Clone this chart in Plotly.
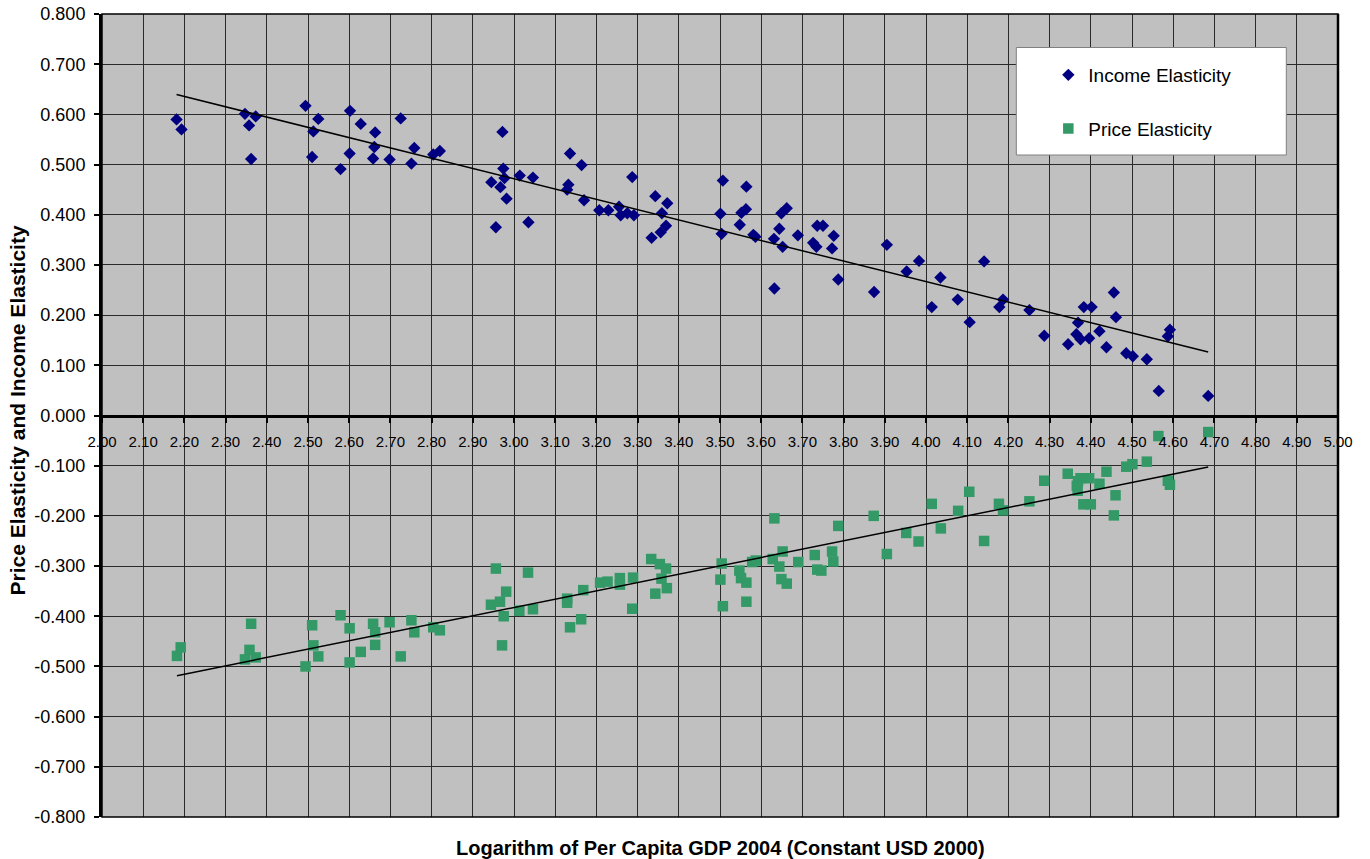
import numpy as np
import plotly.graph_objects as go

income_x = [2.181, 2.193, 2.347, 2.373, 2.357, 2.362, 2.494, 2.525, 2.513, 2.510, 2.602, 2.628, 2.663, 2.661, 2.658, 2.601, 2.579, 2.698, 2.725, 2.758, 2.751, 2.804, 2.820,
            2.972, 2.974, 2.945, 2.967, 2.977, 2.982, 2.956, 3.014, 3.046, 3.035, 3.136, 3.164, 3.132, 3.129, 3.170, 3.207, 3.229, 3.255, 3.259, 3.275, 3.291, 3.287, 3.343, 3.372, 3.359, 3.369, 3.356, 3.334,
            3.507, 3.501, 3.504, 3.564, 3.563, 3.552, 3.548, 3.581, 3.586, 3.632, 3.631, 3.644, 3.652, 3.649, 3.662, 3.689, 3.736, 3.750, 3.726, 3.734, 3.776, 3.772, 3.787, 3.874, 3.905,
            3.953, 3.983, 4.014, 4.035, 4.077, 4.106, 4.141, 4.178, 4.187, 4.251, 4.287, 4.345, 4.369, 4.365, 4.375, 4.383, 4.402, 4.396, 4.421, 4.438, 4.456, 4.461, 4.486, 4.502, 4.536, 4.565, 4.587, 4.592, 4.685]
income_y = [0.590, 0.570, 0.601, 0.596, 0.578, 0.511, 0.617, 0.591, 0.566, 0.515, 0.607, 0.581, 0.564, 0.535, 0.512, 0.522, 0.491, 0.510, 0.592, 0.533, 0.502, 0.520, 0.527,
            0.565, 0.492, 0.465, 0.455, 0.473, 0.432, 0.375, 0.478, 0.474, 0.385, 0.522, 0.499, 0.460, 0.450, 0.429, 0.409, 0.409, 0.416, 0.399, 0.403, 0.399, 0.475, 0.437, 0.423, 0.403, 0.378, 0.365, 0.354,
            0.468, 0.402, 0.362, 0.456, 0.411, 0.404, 0.380, 0.360, 0.356, 0.253, 0.352, 0.372, 0.336, 0.403, 0.413, 0.359, 0.378, 0.378, 0.344, 0.336, 0.358, 0.333, 0.271, 0.246, 0.340,
            0.287, 0.308, 0.216, 0.275, 0.231, 0.186, 0.307, 0.216, 0.231, 0.210, 0.159, 0.142, 0.185, 0.162, 0.152, 0.216, 0.216, 0.154, 0.168, 0.136, 0.245, 0.196, 0.124, 0.118, 0.112, 0.049, 0.158, 0.171, 0.039]

price_x = [2.182, 2.191, 2.362, 2.358, 2.347, 2.373, 2.494, 2.510, 2.513, 2.525, 2.579, 2.601, 2.601, 2.628, 2.658, 2.663, 2.663, 2.698, 2.725, 2.751, 2.758, 2.804, 2.820,
           2.956, 2.944, 2.966, 2.981, 2.975, 2.971, 3.013, 3.046, 3.034, 3.129, 3.129, 3.136, 3.163, 3.168, 3.209, 3.227, 3.257, 3.257, 3.289, 3.287, 3.333, 3.354, 3.369, 3.358, 3.371, 3.343,
           3.504, 3.501, 3.507, 3.547, 3.551, 3.564, 3.564, 3.578, 3.587, 3.628, 3.652, 3.644, 3.649, 3.662, 3.690, 3.730, 3.736, 3.746, 3.772, 3.775, 3.787, 3.905, 3.632,
           3.873, 3.952, 3.982, 4.014, 4.036, 4.078, 4.105, 4.141, 4.177, 4.187, 4.251, 4.287, 4.344, 4.375, 4.369, 4.366, 4.368, 4.396, 4.382, 4.400, 4.421, 4.438, 4.460, 4.456, 4.486, 4.501, 4.536, 4.564, 4.587, 4.592, 4.685]
price_y = [-0.479, -0.462, -0.415, -0.467, -0.486, -0.482, -0.500, -0.418, -0.458, -0.480, -0.398, -0.424, -0.492, -0.471, -0.415, -0.432, -0.457, -0.412, -0.480, -0.408, -0.432, -0.422, -0.428,
           -0.305, -0.377, -0.371, -0.351, -0.400, -0.458, -0.389, -0.386, -0.313, -0.365, -0.373, -0.422, -0.406, -0.348, -0.333, -0.331, -0.324, -0.337, -0.323, -0.385, -0.286, -0.296, -0.305, -0.325, -0.344, -0.355,
           -0.295, -0.327, -0.380, -0.309, -0.324, -0.333, -0.371, -0.292, -0.289, -0.286, -0.271, -0.301, -0.326, -0.335, -0.292, -0.278, -0.307, -0.309, -0.271, -0.291, -0.220, -0.276, -0.205,
           -0.200, -0.234, -0.251, -0.176, -0.225, -0.190, -0.152, -0.250, -0.176, -0.189, -0.171, -0.130, -0.116, -0.125, -0.131, -0.140, -0.150, -0.125, -0.177, -0.177, -0.136, -0.112, -0.159, -0.199, -0.102, -0.097, -0.092, -0.041, -0.130, -0.138, -0.033]

x_ticks = [round(2.0 + 0.1 * i, 2) for i in range(31)]
y_ticks = [round(-0.8 + 0.1 * i, 1) for i in range(17)]

FONT = "Liberation Sans, Arial, sans-serif"

def trend(xs, ys):
    k, b = np.polyfit(xs, ys, 1)
    xr = np.array([min(xs), max(xs)])
    return xr, k * xr + b

fig = go.Figure()

fig.add_trace(go.Scatter(x=income_x, y=income_y, mode="markers", name="Income Elasticity",
                         legendgroup="a",
                         marker=dict(symbol="diamond", size=9.5, color="#000080", line=dict(width=0))))
fig.add_trace(go.Scatter(x=price_x, y=price_y, mode="markers", name="Price Elasticity",
                         legendgroup="b",
                         marker=dict(symbol="square", size=10.5, color="#339966", line=dict(width=0))))

tx, ty = trend(income_x, income_y)
fig.add_trace(go.Scatter(x=tx, y=ty, mode="lines", line=dict(color="black", width=1.5),
                         showlegend=False, hoverinfo="skip"))
tx, ty = trend(price_x, price_y)
fig.add_trace(go.Scatter(x=tx, y=ty, mode="lines", line=dict(color="black", width=1.5),
                         showlegend=False, hoverinfo="skip"))

W, H = 1370, 859
L, R, T, B = 101.6, 1337.7, 14, 817
pw, ph = R - L, B - T

def px_x(p):
    return (p - L) / pw

def px_y(p):
    return (B - p) / ph

fig.update_layout(
    width=W, height=H,
    margin=dict(l=L, r=W - R, t=T, b=H - B, pad=0, autoexpand=False),
    paper_bgcolor="white",
    plot_bgcolor="#C0C0C0",
    font=dict(family=FONT, color="black"),
    showlegend=True,
    legend=dict(x=px_x(1048), y=px_y(56), xanchor="left", yanchor="top",
                bgcolor="rgba(0,0,0,0)", borderwidth=0,
                font=dict(size=19, family=FONT, color="black"),
                traceorder="grouped", tracegroupgap=26),
    xaxis=dict(range=[2.0, 5.0], tickmode="array", tickvals=x_ticks,
               ticktext=[f"{v:.2f}" for v in x_ticks],
               showgrid=True, gridcolor="#2a2a2a", gridwidth=1,
               zeroline=False, showline=True, linecolor="black", linewidth=3,
               anchor="free", position=0.5, automargin=False,
               ticks="outside", ticklen=5, tickwidth=2, tickcolor="black",
               tickfont=dict(size=15, family=FONT, color="black"),
               ticklabelstandoff=6),
    yaxis=dict(range=[-0.8, 0.8], tickmode="array", tickvals=y_ticks,
               ticktext=[f"{v:.3f}" for v in y_ticks],
               showgrid=True, gridcolor="#2a2a2a", gridwidth=1,
               zeroline=False, showline=True, linecolor="black", linewidth=3,
               automargin=False, ticklabeloverflow="allow",
               ticks="outside", ticklen=5, tickwidth=2, tickcolor="black",
               tickfont=dict(size=18, family=FONT, color="black"),
               ticklabelstandoff=5),
    shapes=[
        dict(type="rect", xref="paper", yref="paper", x0=0, x1=1, y0=0, y1=1,
             line=dict(color="black", width=1.5), layer="above"),
        dict(type="line", xref="paper", yref="paper", x0=1, x1=1, y0=0, y1=1,
             line=dict(color="black", width=2.5), layer="above"),
        dict(type="rect", xref="paper", yref="paper",
             x0=px_x(1016), x1=px_x(1286), y0=px_y(155), y1=px_y(47.5),
             fillcolor="white", line=dict(color="#808080", width=1), layer="above"),
    ],
    annotations=[
        dict(text="<b>Logarithm of Per Capita GDP 2004 (Constant USD 2000)</b>",
             xref="paper", yref="paper", x=px_x(720), y=px_y(848), xanchor="center", yanchor="middle",
             showarrow=False, font=dict(size=20, family=FONT, color="black")),
        dict(text="<b>Price Elasticity and Income Elasticity</b>",
             xref="paper", yref="paper", x=px_x(17), y=px_y(410), xanchor="center", yanchor="middle",
             textangle=-90, showarrow=False, font=dict(size=21, family=FONT, color="black")),
    ],
)

fig.write_html("out.html",
               config={"displayModeBar": False},
               post_script="document.body.style.margin='0';document.body.style.overflow='hidden';")
